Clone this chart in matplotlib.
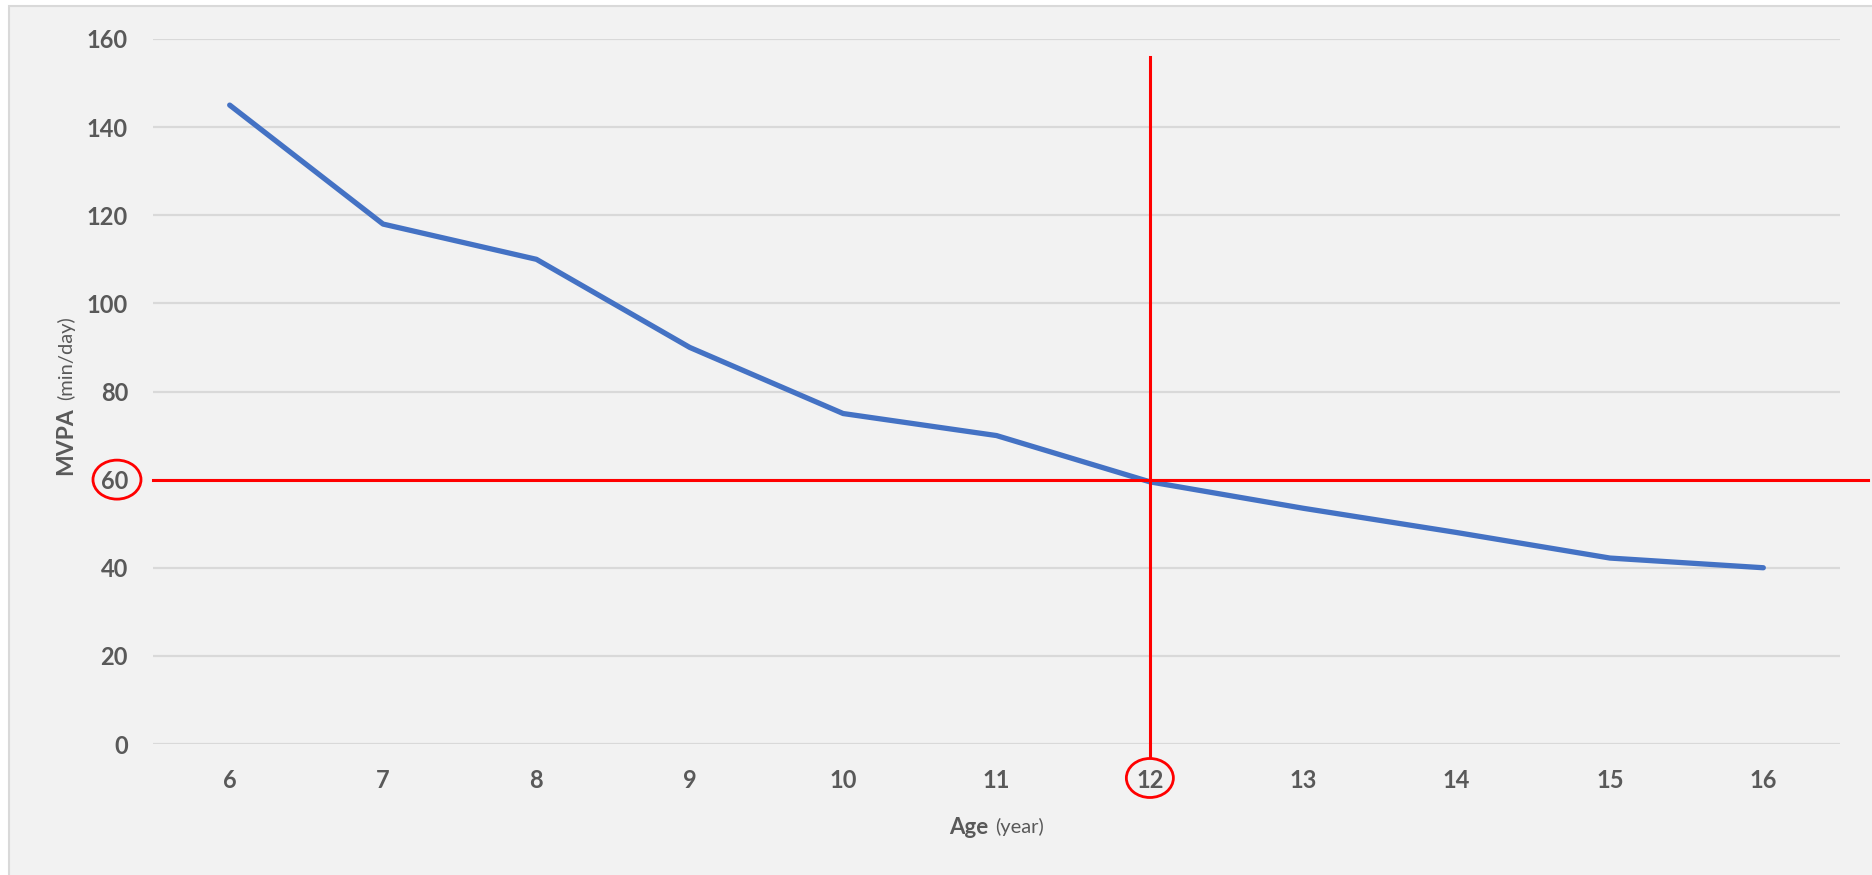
import matplotlib.pyplot as plt
from matplotlib.patches import Ellipse, Rectangle

ages = [6, 7, 8, 9, 10, 11, 12, 13, 14, 15, 16]
mvpa = [145, 118, 110, 90, 75, 70, 59.5, 53.5, 48, 42.2, 40]
yticks = [0, 20, 40, 60, 80, 100, 120, 140, 160]
threshold_age = 12
threshold_mvpa = 60

text_col = '#595959'
grid_col = '#d9d9d9'
bg = '#f2f2f2'
plt.rcParams['font.family'] = ['Lato', 'DejaVu Sans']

W, H = 1872, 875
fig = plt.figure(figsize=(W / 100, H / 100), dpi=100, facecolor='white')
# chart frame (left and top border visible)
fig.patches.append(Rectangle((9 / W, -0.01), 1.01, 1 - 6 / H + 0.01, transform=fig.transFigure,
                             facecolor=bg, edgecolor=grid_col, linewidth=1.5, zorder=-1))

ax = fig.add_axes([153 / W, 1 - 744 / H, (1840 - 153) / W, (744 - 39) / H])
ax.set_facecolor('none')
ax.set_xlim(5.5, 16.5)
ax.set_ylim(0, 160)
ax.set_yticks(yticks)
ax.set_xticks(ages)
for s in ax.spines.values():
    s.set_visible(False)
ax.grid(axis='y', color=grid_col, linewidth=1.6, zorder=0)
ax.set_axisbelow(True)
ax.tick_params(length=0, labelsize=17, labelcolor=text_col, pad=18)
for lab in ax.get_xticklabels() + ax.get_yticklabels():
    lab.set_fontweight('bold')

ax.plot(ages, mvpa, color='#4472c4', linewidth=3.8, solid_capstyle='round', zorder=3)

# red threshold lines
ax.plot([5.5, 16.68], [threshold_mvpa, threshold_mvpa], color='red', linewidth=2.2,
        clip_on=False, zorder=4)
ax.plot([threshold_age, threshold_age], [-2.9, 156], color='red', linewidth=2.2,
        clip_on=False, zorder=4)

# circles around the tick labels
px_x = 1 / 153.3
px_y = 160 / 705
ax.add_patch(Ellipse((5.5 + (117 - 153) * px_x, threshold_mvpa), 48 * px_x, 39 * px_y,
                     fill=False, edgecolor='red', linewidth=2, clip_on=False))
ax.add_patch(Ellipse((threshold_age, -(778 - 744) * px_y), 47 * px_x, 39 * px_y,
                     fill=False, edgecolor='red', linewidth=2, clip_on=False))

# axis titles
fig.text(988 / W, 1 - 827 / H, 'Age', fontsize=16, fontweight='bold', color=text_col,
         ha='right', va='center')
fig.text(995 / W, 1 - 827 / H, '(year)', fontsize=14.5, color=text_col,
         ha='left', va='center')
fig.text(66 / W, 1 - 441 / H, 'MVPA', fontsize=16.5, fontweight='bold', color=text_col,
         ha='center', va='center', rotation=90)
fig.text(66 / W, 1 - 358 / H, '(min/day)', fontsize=14.5, color=text_col,
         ha='center', va='center', rotation=90)

fig.savefig('out.png', dpi=100, facecolor='white')
